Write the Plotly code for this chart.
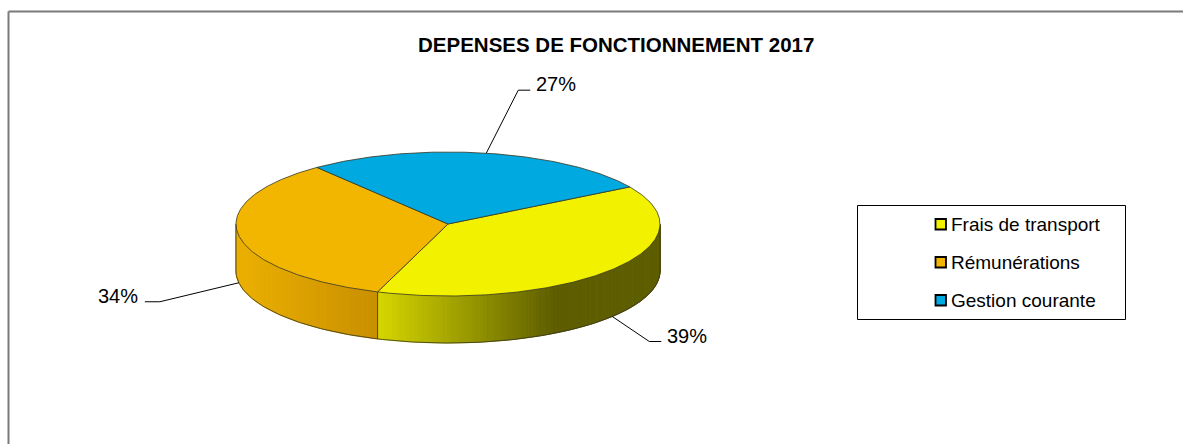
import numpy as np
import plotly.graph_objects as go

# ---------------- data ----------------
title_text = "DEPENSES DE FONCTIONNEMENT 2017"
categories = ["Frais de transport", "Rémunérations", "Gestion courante"]
values = [39, 34, 27]

# ---------------- style ----------------
top_colors = ["#F2F200", "#F2B500", "#00A9E0"]
side_light = ["#D6D600", "#EBB000", "#0095C5"]
side_dark = ["#5E5E00", "#C98F00", "#005F80"]
side_ramp = [0.62, 1.0, 1.0]
edge_color = "rgba(55,55,35,0.8)"
FONT = "Liberation Sans, Arial, sans-serif"

W, H = 1183, 444
CX, CY, RX, RY, DEPTH = 448, 224, 212, 72, 47
START = -31.0  # screen angle (deg, clockwise from 3 o'clock)

# label leader elbows relative to anchor (layout only)
elbow_off = [(37, 25), (-79, 19), (32, -63)]


def pt(a, dy=0.0):
    r = np.radians(a)
    return CX + RX * np.cos(r), CY + RY * np.sin(r) + dy


def hex2rgb(h):
    h = h.lstrip("#")
    return np.array([int(h[i:i + 2], 16) for i in (0, 2, 4)], dtype=float)


def lerp(c1, c2, t):
    c = hex2rgb(c1) * (1 - t) + hex2rgb(c2) * t
    return "rgb(%d,%d,%d)" % tuple(np.round(c))


total = float(sum(values))
bounds = [START]
for v in values:
    bounds.append(bounds[-1] + v / total * 360.0)

fig = go.Figure()

# ---- side walls (front half only) ----
for i in range(len(values)):
    a0, a1 = bounds[i], bounds[i + 1]
    n = max(2, int(np.ceil((a1 - a0) / 1.0)))
    angs = np.linspace(a0, a1, n + 1)
    vis = []
    for j in range(n):
        m = (angs[j] + angs[j + 1]) / 2
        if np.sin(np.radians(m)) > 0:
            vis.append((angs[j], angs[j + 1]))
    if not vis:
        continue
    xs_all = [pt(a)[0] for seg in vis for a in seg]
    xmin, xmax = min(xs_all), max(xs_all)
    for (s0, s1) in vis:
        s0c = s0 if np.sin(np.radians(s0)) >= 0 else 0.0
        s1c = s1 if np.sin(np.radians(s1)) >= -1e-9 else 180.0
        xa, ya = pt(s0c)
        xb, yb = pt(s1c)
        xm = (xa + xb) / 2
        t = (xm - xmin) / max(1e-6, (xmax - xmin))
        t = min(1.0, t / side_ramp[i])
        col = lerp(side_light[i], side_dark[i], t)
        fig.add_trace(go.Scatter(
            x=[xa, xb, xb, xa, xa], y=[ya, yb, yb + DEPTH, ya + DEPTH, ya],
            mode="lines", fill="toself", fillcolor=col,
            line=dict(color=col, width=1), hoverinfo="skip", showlegend=False))

# bottom outline of the side and vertical edges
arc = np.linspace(0, 180, 181)
bx, by = zip(*[pt(a, DEPTH) for a in arc])
fig.add_trace(go.Scatter(x=bx, y=by, mode="lines", line=dict(color=edge_color, width=1),
                         hoverinfo="skip", showlegend=False))
edge_angles = [0, 180] + [b % 360 for b in bounds[1:-1] if 0 < (b % 360) < 180]
for a in edge_angles:
    x0, y0 = pt(a)
    fig.add_trace(go.Scatter(x=[x0, x0], y=[y0, y0 + DEPTH], mode="lines",
                             line=dict(color=edge_color, width=1),
                             hoverinfo="skip", showlegend=False))

# ---- top faces ----
for i in range(len(values)):
    a0, a1 = bounds[i], bounds[i + 1]
    angs = np.linspace(a0, a1, 200)
    xs = [CX] + [pt(a)[0] for a in angs] + [CX]
    ys = [CY] + [pt(a)[1] for a in angs] + [CY]
    fig.add_trace(go.Scatter(x=xs, y=ys, mode="lines", fill="toself",
                             fillcolor=top_colors[i], line=dict(color=edge_color, width=1),
                             name=categories[i], hoverinfo="skip", showlegend=False))

# ---- percentage labels with leader lines ----
annotations = []
for i, v in enumerate(values):
    m = (bounds[i] + bounds[i + 1]) / 2
    front = np.sin(np.radians(m)) > 0
    ax, ay = pt(m, DEPTH if front else 0)
    ex, ey = ax + elbow_off[i][0], ay + elbow_off[i][1]
    right = elbow_off[i][0] > 0
    hx = ex + (12 if right else -15)
    fig.add_trace(go.Scatter(x=[ax, ex, hx], y=[ay, ey, ey], mode="lines",
                             line=dict(color="black", width=1),
                             hoverinfo="skip", showlegend=False))
    annotations.append(dict(
        x=hx + (4 if right else -5), y=ey - 6, xref="x", yref="y",
        text="%d%%" % round(v / total * 100), showarrow=False,
        xanchor="left" if right else "right", yanchor="middle",
        font=dict(family=FONT, size=20, color="black")))

# ---- title ----
annotations.append(dict(x=616, y=44, xref="x", yref="y", text="<b>%s</b>" % title_text,
                        showarrow=False, xanchor="center", yanchor="middle",
                        font=dict(family=FONT, size=20.5, color="black")))

# ---- chart frame (only left and top edges fall inside the picture) ----
shapes = [
    dict(type="line", xref="x", yref="y", x0=8.5, y0=11.5, x1=8.5, y1=H,
         line=dict(color="#7a7a7a", width=2), layer="below"),
    dict(type="line", xref="x", yref="y", x0=8.5, y0=11.5, x1=W, y1=11.5,
         line=dict(color="#7a7a7a", width=2), layer="below"),
    dict(type="rect", xref="x", yref="y", x0=857.5, y0=205.5, x1=1125.5, y1=319.5,
         line=dict(color="black", width=1), fillcolor="white", layer="below"),
]

# ---- legend (drawn manually) ----
leg_y = [224, 262, 300]
for i, c in enumerate(categories):
    shapes.append(dict(type="rect", xref="x", yref="y", x0=935.5, y0=leg_y[i] - 5,
                       x1=946, y1=leg_y[i] + 5.5, line=dict(color="black", width=1.8),
                       fillcolor=top_colors[i]))
    annotations.append(dict(x=949, y=leg_y[i], xref="x", yref="y", text=c, showarrow=False,
                            xanchor="left", yanchor="middle",
                            font=dict(family=FONT, size=19, color="black")))

fig.update_layout(
    width=W, height=H, margin=dict(l=0, r=0, t=0, b=0),
    paper_bgcolor="white", plot_bgcolor="white",
    xaxis=dict(range=[0, W], visible=False, fixedrange=True),
    yaxis=dict(range=[H, 0], visible=False, fixedrange=True),
    shapes=shapes, annotations=annotations, showlegend=False,
)

fig.write_html("out.html", config={"displayModeBar": False})

# remove the default page margin so the figure sits at the window origin
with open("out.html", "r", encoding="utf-8") as f:
    html = f.read()
html = html.replace("<head>", "<head><style>html,body{margin:0;padding:0;overflow:hidden;}</style>", 1)
with open("out.html", "w", encoding="utf-8") as f:
    f.write(html)
